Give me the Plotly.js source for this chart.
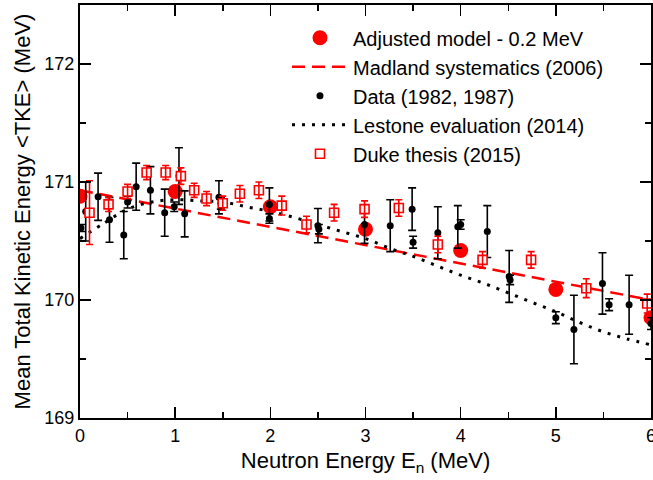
<!DOCTYPE html>
<html>
<head>
<meta charset="utf-8">
<script src="https://cdn.plot.ly/plotly-3.0.1.min.js"></script>
<style>html,body{margin:0;padding:0;background:#fff;}#chart{width:653px;height:480px;}</style>
</head>
<body>
<div id="chart"></div>
<script>
// Adjusted model - 0.2 MeV
const modelE = [0, 1, 2, 3, 4, 5, 6];
const modelTKE = [170.88, 170.92, 170.79, 170.60, 170.42, 170.09, 169.85];

// Madland systematics (2006): endpoints of the straight line
const madlandE = [0, 6];
const madlandTKE = [170.93, 170.00];

// Data (1982, 1987)
const dataE = [0.01, 0.06, 0.19, 0.31, 0.46, 0.50, 0.59, 0.74, 0.89, 0.99, 1.04, 1.10, 1.46, 1.48, 1.99, 1.99, 2.50, 2.51, 2.99, 3.26, 3.49, 3.50, 3.76, 3.97, 4.00, 4.28, 4.51, 4.52, 5.00, 5.19, 5.49, 5.56, 5.77, 6.00];
const dataTKE = [170.61, 170.75, 170.875, 170.68, 170.55, 170.83, 170.96, 170.93, 170.74, 170.79, 171.05, 170.73, 170.87, 170.82, 170.81, 170.69, 170.63, 170.60, 170.64, 170.63, 170.77, 170.49, 170.57, 170.62, 170.64, 170.58, 170.20, 170.17, 169.85, 169.75, 170.14, 169.96, 169.96, 169.80];
const dataErr = [0.03, 0.25, 0.20, 0.19, 0.20, 0.05, 0.20, 0.20, 0.20, 0.04, 0.24, 0.195, 0.14, 0.05, 0.14, 0.04, 0.145, 0.04, 0.16, 0.22, 0.18, 0.05, 0.22, 0.18, 0.04, 0.22, 0.22, 0.04, 0.05, 0.29, 0.26, 0.05, 0.25, 0.05];

// Lestone evaluation (2014)
const lestoneE = [0, 0.25, 0.5, 0.75, 1.0, 1.25, 1.5, 1.75, 2.0, 2.25, 2.5, 2.75, 3.0, 3.25, 3.5, 3.75, 4.0, 4.25, 4.5, 4.75, 5.0, 5.25, 5.5, 5.75, 6.0];
const lestoneTKE = [170.52, 170.65, 170.77, 170.83, 170.85, 170.84, 170.83, 170.79, 170.75, 170.70, 170.64, 170.58, 170.52, 170.44, 170.37, 170.29, 170.21, 170.14, 170.06, 169.98, 169.90, 169.81, 169.73, 169.67, 169.62];

// Duke thesis (2015)
const dukeE = [0.10, 0.30, 0.50, 0.70, 0.90, 1.06, 1.20, 1.33, 1.50, 1.68, 1.88, 2.12, 2.38, 2.67, 2.99, 3.35, 3.76, 4.23, 4.74, 5.32, 5.96];
const dukeTKE = [170.74, 170.81, 170.92, 171.08, 171.08, 171.05, 170.93, 170.86, 170.82, 170.90, 170.93, 170.80, 170.64, 170.74, 170.77, 170.78, 170.47, 170.34, 170.34, 170.10, 169.97];
const dukeErr = [0.27, 0.06, 0.06, 0.06, 0.06, 0.07, 0.06, 0.06, 0.06, 0.07, 0.07, 0.08, 0.07, 0.07, 0.07, 0.07, 0.07, 0.07, 0.07, 0.08, 0.08];

const xTicks = [0, 1, 2, 3, 4, 5, 6];
const yTicks = [169, 170, 171, 172];

const FONT = 'Liberation Sans, Arial, Helvetica, sans-serif';
const RED = '#ff0000';

const traces = [
  {
    name: 'Madland systematics (2006)', x: madlandE, y: madlandTKE, type: 'scatter', mode: 'lines',
    line: {color: RED, width: 2.5, dash: '13px,7px'}, legendrank: 2, legendgroup: 'g2'
  },
  {
    name: 'Lestone evaluation (2014)', x: lestoneE, y: lestoneTKE, type: 'scatter', mode: 'lines',
    line: {color: '#000000', width: 3, dash: '3px,7px', shape: 'spline'}, legendrank: 4, legendgroup: 'g4'
  },
  {
    name: 'Adjusted model - 0.2 MeV', x: modelE, y: modelTKE, type: 'scatter', mode: 'markers',
    marker: {color: RED, size: 15, symbol: 'circle'}, legendrank: 1, legendgroup: 'g1'
  },
  {
    name: 'Data (1982, 1987)', x: dataE, y: dataTKE, type: 'scatter', mode: 'markers',
    marker: {color: '#000000', size: 7, symbol: 'circle'},
    error_y: {type: 'data', array: dataErr, visible: true, color: '#000000', thickness: 1.6, width: 4},
    legendrank: 3, legendgroup: 'g3'
  },
  {
    // white backing of the Duke squares
    name: 'Duke backing', x: dukeE, y: dukeTKE, type: 'scatter', mode: 'markers', showlegend: false,
    marker: {color: '#ffffff', size: 9, symbol: 'square', line: {width: 0}}, hoverinfo: 'skip', legendgroup: 'g5'
  },
  {
    name: 'Duke thesis (2015)', x: dukeE, y: dukeTKE, type: 'scatter', mode: 'markers',
    marker: {color: RED, size: 9, symbol: 'square-open', line: {color: RED, width: 1.6}},
    error_y: {type: 'data', array: dukeErr, visible: true, color: RED, thickness: 1.6, width: 3.5},
    legendrank: 5, legendgroup: 'g5'
  }
];

const axisCommon = {
  showline: true, linecolor: '#000', linewidth: 2, mirror: 'allticks',
  ticks: 'inside', ticklen: 11, tickwidth: 1.5, tickcolor: '#000',
  showgrid: false, zeroline: false, ticklabeloverflow: 'allow',
  tickfont: {family: FONT, size: 18, color: '#000'}
};

const layout = {
  width: 653, height: 480,
  margin: {l: 80, r: 2, t: 5, b: 62},
  paper_bgcolor: '#fff', plot_bgcolor: '#fff',
  font: {family: FONT, color: '#000'},
  showlegend: true,
  legend: {
    x: 0.3625, y: 0.968, xanchor: 'left', yanchor: 'top',
    bgcolor: 'rgba(0,0,0,0)', borderwidth: 0,
    font: {family: FONT, size: 20, color: '#000'},
    itemwidth: 56, tracegroupgap: 1.7, traceorder: 'normal'
  },
  xaxis: Object.assign({}, axisCommon, {
    range: [0, 6], tickvals: xTicks, ticktext: xTicks.map(String),
    minor: {ticks: 'inside', ticklen: 6, tickwidth: 1.5, tickcolor: '#000', dtick: 0.5, tick0: 0},
    title: {text: 'Neutron Energy E<sub>n</sub> (MeV)', font: {family: FONT, size: 22, color: '#000'}, standoff: 8}
  }),
  yaxis: Object.assign({}, axisCommon, {
    range: [169, 172.5], tickvals: yTicks, ticktext: yTicks.map(String),
    minor: {ticks: 'inside', ticklen: 6, tickwidth: 1.5, tickcolor: '#000', dtick: 0.5, tick0: 169},
    title: {text: 'Mean Total Kinetic Energy &lt;TKE&gt; (MeV)', font: {family: FONT, size: 22, color: '#000'}, standoff: 8}
  })
};

Plotly.newPlot('chart', traces, layout, {displayModeBar: false, staticPlot: true});
</script>
</body>
</html>
